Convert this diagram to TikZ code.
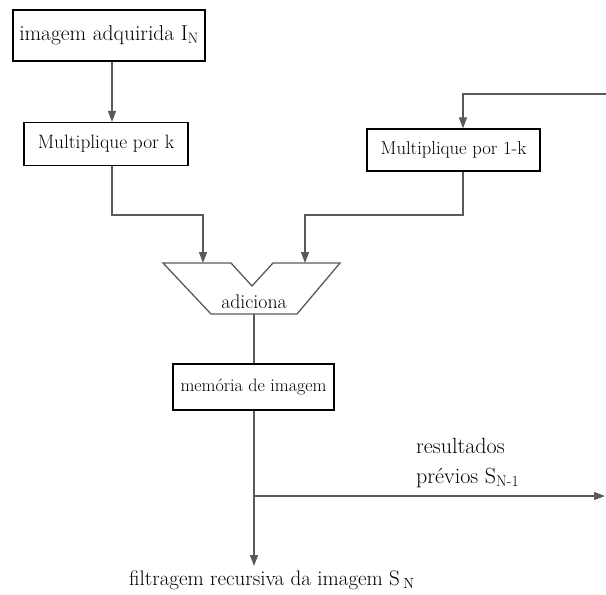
\documentclass[tikz,border=0pt]{standalone}
\usetikzlibrary{arrows.meta}
\definecolor{linegray}{RGB}{90,90,90}
\tikzset{
  box/.style={draw=black, line width=1.2pt, inner sep=0pt, align=center},
  conn/.style={draw=linegray, line width=1.3pt},
  arr/.style={conn, -{Triangle[length=11pt,width=8pt]}},
}
\begin{document}
\begin{tikzpicture}[x=1pt,y=-1pt]
\useasboundingbox (0,0) rectangle (606,595);
% boxes
\node[box, line width=2pt, minimum width=192pt, minimum height=51pt, font=\fontsize{21.5}{24}\selectfont] (img) at (109,35.5) {imagem adquirida I\textsubscript{N}};
\node[box, minimum width=164pt, minimum height=43pt, font=\fontsize{19.3}{22}\selectfont] (mk) at (106,144) {Multiplique por k};
\node[box, minimum width=173pt, minimum height=42pt, font=\fontsize{18.6}{21}\selectfont] (mk1) at (453.5,150) {Multiplique por 1-k};
\node[box, minimum width=161pt, minimum height=46pt, font=\fontsize{18}{20}\selectfont] (mem) at (253.5,387) {memória de imagem};
% adder trapezoid
\coordinate (t1) at (163,263);
\coordinate (t2) at (231,263);
\coordinate (tv) at (252,286);
\coordinate (t3) at (273,263);
\coordinate (t4) at (340,263);
\coordinate (t5) at (297,314);
\coordinate (t6) at (211,314);
\draw[draw=linegray, line width=1.3pt, line join=miter] (t1) -- (t2) -- (tv) -- (t3) -- (t4) -- (t5) -- (t6) -- cycle;
\node[font=\fontsize{19.8}{22}\selectfont, inner sep=0pt] (add) at (254,302) {adiciona};
% helper coordinates
\coordinate (v1) at (112,0);
\coordinate (v2) at (463,0);
\coordinate (v3) at (254,0);
\coordinate (inL) at (203,263);
\coordinate (inR) at (305,263);
\coordinate (hmid) at (0,215);
\coordinate (fbR) at (606,94);
\coordinate (addB) at (254,314);
\coordinate (outR) at (605,496);
\coordinate (outB) at (254,566);
% connectors
\draw[arr] (img.south -| v1) -- (mk.north -| v1);
\draw[arr] (mk.south -| v1) -- (hmid -| v1) -- (hmid -| inL) -- (inL);
\draw[arr] (fbR) -- (fbR -| v2) -- (mk1.north -| v2);
\draw[arr] (mk1.south -| v2) -- (hmid -| v2) -- (hmid -| inR) -- (inR);
\draw[conn] (addB) -- (mem.north -| v3);
\draw[arr] (mem.south -| v3) -- (outB);
\draw[arr] (outR -| v3) -- (outR);
% labels
\node[anchor=west, align=left, inner sep=0pt, font=\fontsize{22}{30}\selectfont] (prev) at (416,463) {resultados\\prévios S\textsubscript{N-1}};
\node[anchor=center, inner sep=0pt, font=\fontsize{21}{24}\selectfont] (out) at (272,580) {filtragem recursiva da imagem S\,\textsubscript{N}};
\end{tikzpicture}
\end{document}
